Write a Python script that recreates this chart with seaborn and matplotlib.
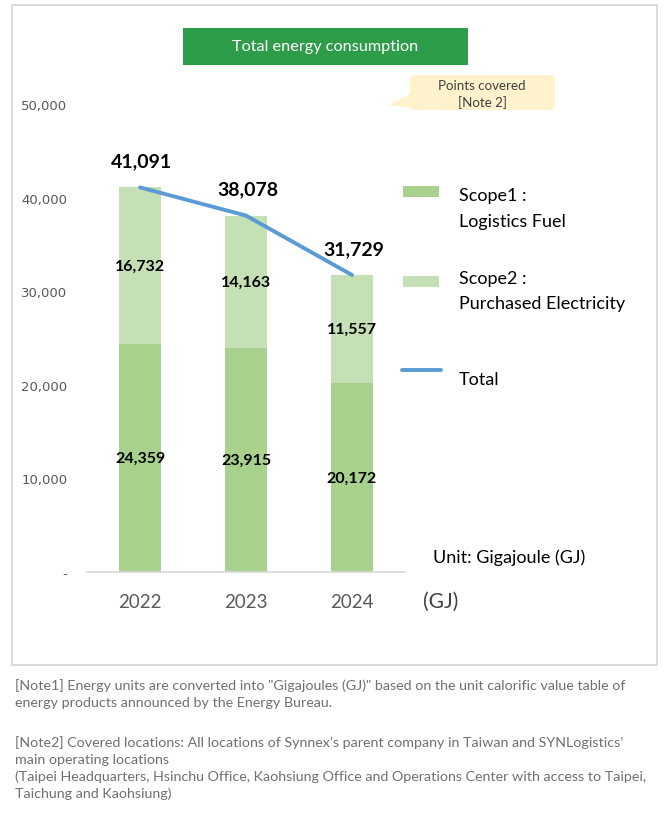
import pandas as pd
import seaborn as sns
import matplotlib.pyplot as plt
from matplotlib.patches import Rectangle, FancyBboxPatch, Polygon
from matplotlib.lines import Line2D

# ==========================================================
# Data
# ==========================================================

years = ["2022", "2023", "2024"]
scope1 = [24359, 23915, 20172]
scope2 = [16732, 14163, 11557]
totals = [a + b for a, b in zip(scope1, scope2)]

y_ticks = [0, 10000, 20000, 30000, 40000, 50000]
y_tick_labels = ["-", "10,000", "20,000", "30,000", "40,000", "50,000"]

legend_lines = ["Scope1 :", "Logistics Fuel", "Scope2 :", "Purchased Electricity", "Total"]

notes = [
    '[Note1] Energy units are converted into "Gigajoules (GJ)" based on the unit calorific value table of',
    "energy products announced by the Energy Bureau.",
    "",
    "[Note2] Covered locations: All locations of Synnex\u2019s parent company in Taiwan and SYNLogistics\u2019",
    "main operating locations",
    "(Taipei Headquarters, Hsinchu Office, Kaohsiung Office and Operations Center with access to Taipei,",
    "Taichung and Kaohsiung)",
]

df = pd.DataFrame({"year": years, "scope1": scope1, "scope2": scope2, "total": totals})

# colours
c_scope1 = "#a9d18e"
c_scope2 = "#c5e0b4"
c_line = "#5b9bd5"
c_title = "#2e9d4a"
c_tick = "#595959"

sns.set_theme(style="white")
plt.rcParams["font.family"] = ["Lato", "DejaVu Sans"]

fig = plt.figure(figsize=(6.67, 8.2), dpi=100)

# background canvas in pixel coordinates
bg = fig.add_axes([0, 0, 1, 1])
bg.set_xlim(0, 667)
bg.set_ylim(820, 0)
bg.axis("off")

bg.add_patch(Rectangle((12, 6), 645, 660, fill=False, ec="#d9d9d9", lw=1.3))

# title box
bg.add_patch(Rectangle((183, 29), 285, 37, fc=c_title, ec="none"))
bg.text(325.5, 47.5, "Total energy consumption", color="white", fontsize=11.7,
        ha="center", va="center")

# callout
bg.add_patch(FancyBboxPatch((410, 76), 145, 35, boxstyle="round,pad=0,rounding_size=6",
                            fc="#fff2cc", ec="none"))
bg.add_patch(Polygon([(389, 106), (412, 94), (420, 110)], fc="#fff2cc", ec="none"))
bg.text(482, 86, "Points covered", color="#404040", fontsize=9.6, ha="center", va="center")
bg.text(482, 103, "[Note 2]", color="#404040", fontsize=9.6, ha="center", va="center")

# legend
bg.add_patch(Rectangle((403, 187), 36, 11, fc=c_scope1, ec="none"))
bg.add_patch(Rectangle((403, 277), 36, 11, fc=c_scope2, ec="none"))
bg.add_line(Line2D([402, 441], [371, 371], color=c_line, lw=2.8))
legend_base = [200.5, 226.5, 284, 309, 385]
for y, line in zip(legend_base, legend_lines):
    bg.text(459, y, line, fontsize=13, color="black", va="baseline")

bg.text(433, 563, "Unit: Gigajoule (GJ)", fontsize=13, color="black", va="baseline")
bg.text(441, 602, "(GJ)", fontsize=15, color="#404040", ha="center", va="center")

# notes under the chart
note_y = [686, 703, 723, 743, 760, 777, 794]
for y, line in zip(note_y, notes):
    if line:
        bg.text(15, y, line, fontsize=10.3, color="#707070", va="center")

# ==========================================================
# Main chart
# ==========================================================

ax = fig.add_axes([87 / 667, 1 - 573 / 820, 318 / 667, (573 - 105) / 820])
ax.set_facecolor("none")

sns.barplot(data=df, x="year", y="total", color=c_scope2, width=0.4,
            saturation=1, linewidth=0, edgecolor="none", ax=ax)
sns.barplot(data=df, x="year", y="scope1", color=c_scope1, width=0.4,
            saturation=1, linewidth=0, edgecolor="none", ax=ax)
sns.lineplot(x=list(range(len(years))), y=totals, color=c_line, linewidth=2.8, ax=ax)

for i in range(len(years)):
    ax.text(i, scope1[i] / 2, f"{scope1[i]:,}", ha="center", va="center",
            fontsize=11.5, fontweight="bold", color="black")
    ax.text(i, scope1[i] + scope2[i] / 2, f"{scope2[i]:,}", ha="center", va="center",
            fontsize=11.5, fontweight="bold", color="black")
    ax.annotate(f"{totals[i]:,}", (i, totals[i]), xytext=(1, 19), textcoords="offset points",
                ha="center", va="center", fontsize=14, fontweight="bold", color="black")

ax.set_xlim(-0.5, 2.5)
ax.set_ylim(0, 50000)
ax.set_yticks(y_ticks, y_tick_labels, fontfamily="DejaVu Sans", fontsize=9.5, color=c_tick)
ax.set_xticks(range(len(years)), years, fontsize=13.5, color=c_tick)
ax.tick_params(axis="y", length=0, pad=14)
ax.tick_params(axis="x", length=0, pad=15)
ax.set_xlabel("")
ax.set_ylabel("")

for side in ["top", "right", "left"]:
    ax.spines[side].set_visible(False)
ax.spines["bottom"].set_color("#d9d9d9")
ax.spines["bottom"].set_linewidth(1.2)

fig.savefig("out.png", dpi=100)
